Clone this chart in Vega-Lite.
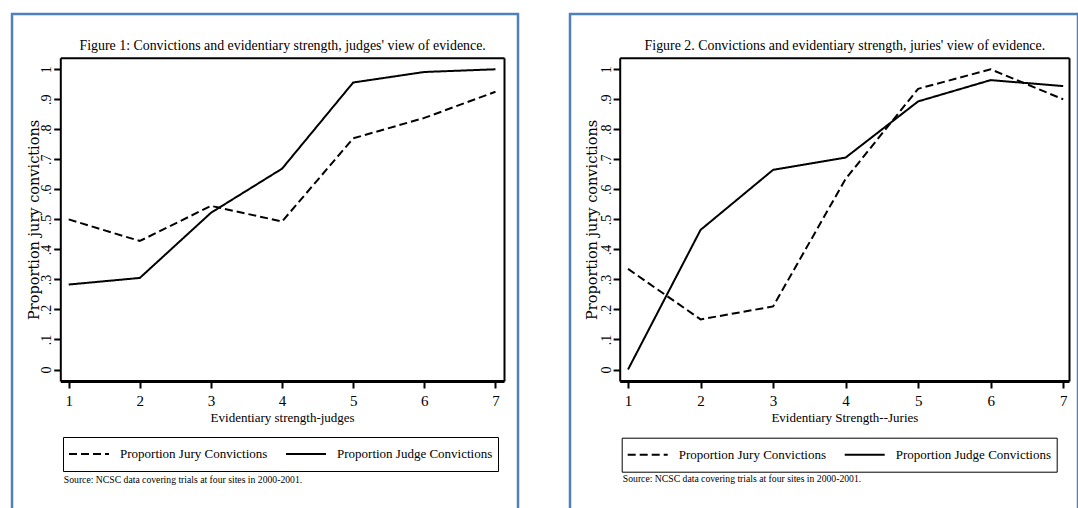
{
  "$schema": "https://vega.github.io/schema/vega-lite/v6.json",
  "padding": {"left": 10, "top": 12, "right": 0, "bottom": 0},
  "background": "white",
  "spacing": 48,
  "resolve": {"scale": {"strokeDash": "independent"}, "legend": {"strokeDash": "independent"}},
  "config": {
    "font": "Liberation Serif",
    "view": {"stroke": "#4f81bd", "strokeWidth": 2.5, "fill": "white"},
    "axis": {"grid": false, "domainColor": "black", "tickColor": "black", "labelColor": "black", "titleColor": "black", "labelFont": "Liberation Serif", "titleFont": "Liberation Serif", "titleFontWeight": "normal"},
    "line": {"color": "black", "strokeWidth": 2}
  },
  "datasets": {
    "fig1": [
      {"x": 1, "series": "Proportion Jury Convictions", "p": 0.5},
      {"x": 2, "series": "Proportion Jury Convictions", "p": 0.428},
      {"x": 3, "series": "Proportion Jury Convictions", "p": 0.545},
      {"x": 4, "series": "Proportion Jury Convictions", "p": 0.493},
      {"x": 5, "series": "Proportion Jury Convictions", "p": 0.77},
      {"x": 6, "series": "Proportion Jury Convictions", "p": 0.838},
      {"x": 7, "series": "Proportion Jury Convictions", "p": 0.925},
      {"x": 1, "series": "Proportion Judge Convictions", "p": 0.283},
      {"x": 2, "series": "Proportion Judge Convictions", "p": 0.305},
      {"x": 3, "series": "Proportion Judge Convictions", "p": 0.522},
      {"x": 4, "series": "Proportion Judge Convictions", "p": 0.669},
      {"x": 5, "series": "Proportion Judge Convictions", "p": 0.956},
      {"x": 6, "series": "Proportion Judge Convictions", "p": 0.991},
      {"x": 7, "series": "Proportion Judge Convictions", "p": 1.0}
    ],
    "fig2": [
      {"x": 1, "series": "Proportion Jury Convictions", "p": 0.335},
      {"x": 2, "series": "Proportion Jury Convictions", "p": 0.167},
      {"x": 3, "series": "Proportion Jury Convictions", "p": 0.21},
      {"x": 4, "series": "Proportion Jury Convictions", "p": 0.635},
      {"x": 5, "series": "Proportion Jury Convictions", "p": 0.935},
      {"x": 6, "series": "Proportion Jury Convictions", "p": 1.0},
      {"x": 7, "series": "Proportion Jury Convictions", "p": 0.9},
      {"x": 1, "series": "Proportion Judge Convictions", "p": 0.0},
      {"x": 2, "series": "Proportion Judge Convictions", "p": 0.465},
      {"x": 3, "series": "Proportion Judge Convictions", "p": 0.665},
      {"x": 4, "series": "Proportion Judge Convictions", "p": 0.706},
      {"x": 5, "series": "Proportion Judge Convictions", "p": 0.893},
      {"x": 6, "series": "Proportion Judge Convictions", "p": 0.964},
      {"x": 7, "series": "Proportion Judge Convictions", "p": 0.944}
    ]
  },
  "hconcat": [
    {
      "width": 506,
      "height": 500,
      "data": {"name": "fig1"},
      "resolve": {"axis": {"x": "independent", "y": "independent"}},
      "layer": [
        {
          "mark": {"type": "line", "strokeWidth": 2, "color": "black"},
          "encoding": {
            "x": {"field": "x", "type": "quantitative",
              "scale": {"domain": [0.882, 7.12], "range": [48.3, 492], "zero": false, "nice": false},
              "axis": {"orient": "bottom", "offset": -133, "values": [1, 2, 3, 4, 5, 6, 7], "format": "d", "domainWidth": 3, "tickWidth": 2, "tickSize": 7, "labelFontSize": 15, "labelPadding": 5, "labelFlush": false, "labelOverlap": false,
                "title": "Evidentiary strength-judges", "titleFontSize": 13, "titleX": 270.15, "titleY": 40.3, "titleBaseline": "alphabetic", "titleAlign": "center"}},
            "y": {"field": "p", "type": "quantitative",
              "scale": {"domain": [-0.0383, 1.0386], "range": [367, 43.7], "zero": false, "nice": false},
              "axis": {"orient": "left", "offset": -48.3, "values": [0, 0.1, 0.2, 0.3, 0.4, 0.5, 0.6, 0.7, 0.8, 0.9, 1],
                "labelExpr": "datum.value == 0 ? '0' : datum.value == 1 ? '1' : replace(format(datum.value, '.1f'), '0.', '.')",
                "domainWidth": 2, "tickWidth": 2, "tickSize": 6.6, "labelAngle": 270, "labelAlign": "center", "labelBaseline": "alphabetic", "labelPadding": 3, "labelFontSize": 14, "labelFlush": false, "labelOverlap": false,
                "title": "Proportion jury convictions", "titleFont": "DejaVu Serif", "titleFontSize": 14.5, "titleAngle": 270, "titleX": -22, "titleY": 205.35, "titleAlign": "center", "titleBaseline": "alphabetic"}},
            "strokeDash": {"field": "series", "type": "nominal",
              "scale": {"domain": ["Proportion Jury Convictions", "Proportion Judge Convictions"], "range": [[8, 4], [1, 0]]},
              "legend": {"title": null, "orient": "none", "legendX": 51, "legendY": 423, "direction": "horizontal", "columns": 2,
                "symbolType": "stroke", "symbolSize": 1600, "symbolStrokeWidth": 2, "symbolStrokeColor": "black", "clipHeight": 24,
                "padding": 5, "labelOffset": 10, "columnPadding": 17, "labelFont": "Liberation Serif", "labelFontSize": 13, "labelColor": "black", "labelLimit": 0,
                "strokeColor": "black", "encode": {"legend": {"update": {"strokeWidth": {"value": 2}}}}}}
          }
        },
        {
          "mark": {"type": "line", "opacity": 0},
          "encoding": {
            "x": {"field": "x", "type": "quantitative",
              "axis": {"orient": "top", "offset": -43.7, "ticks": false, "labels": false, "domainWidth": 2,
                "title": "Figure 1: Convictions and evidentiary strength, judges' view of evidence.", "titleFontSize": 13.9, "titleX": 270.15, "titleY": -8, "titleBaseline": "alphabetic", "titleAlign": "center"}},
            "y": {"field": "p", "type": "quantitative",
              "axis": {"orient": "right", "offset": -14, "ticks": false, "labels": false, "domainWidth": 2,
                "title": "Source: NCSC data covering trials at four sites in 2000-2001.", "titleAngle": 0, "titleFontSize": 9.7, "titleX": -440.7, "titleY": 468.4, "titleAlign": "left", "titleBaseline": "alphabetic"}},
            "detail": {"field": "series"}
          }
        }
      ]
    },
    {
      "width": 508,
      "height": 500,
      "data": {"name": "fig2"},
      "resolve": {"axis": {"x": "independent", "y": "independent"}},
      "layer": [
        {
          "mark": {"type": "line", "strokeWidth": 2, "color": "black"},
          "encoding": {
            "x": {"field": "x", "type": "quantitative",
              "scale": {"domain": [0.885, 7.08], "range": [49.7, 499], "zero": false, "nice": false},
              "axis": {"orient": "bottom", "offset": -133, "values": [1, 2, 3, 4, 5, 6, 7], "format": "d", "domainWidth": 3, "tickWidth": 2, "tickSize": 7, "labelFontSize": 15, "labelPadding": 5, "labelFlush": false, "labelOverlap": false,
                "title": "Evidentiary Strength--Juries", "titleFontSize": 13, "titleX": 274.35, "titleY": 40.3, "titleBaseline": "alphabetic", "titleAlign": "center"}},
            "y": {"field": "p", "type": "quantitative",
              "scale": {"domain": [-0.0383, 1.0386], "range": [367, 43.7], "zero": false, "nice": false},
              "axis": {"orient": "left", "offset": -49.7, "values": [0, 0.1, 0.2, 0.3, 0.4, 0.5, 0.6, 0.7, 0.8, 0.9, 1],
                "labelExpr": "datum.value == 0 ? '0' : datum.value == 1 ? '1' : replace(format(datum.value, '.1f'), '0.', '.')",
                "domainWidth": 2, "tickWidth": 2, "tickSize": 6.6, "labelAngle": 270, "labelAlign": "center", "labelBaseline": "alphabetic", "labelPadding": 3, "labelFontSize": 14, "labelFlush": false, "labelOverlap": false,
                "title": "Proportion jury convictions", "titleFont": "DejaVu Serif", "titleFontSize": 14.5, "titleAngle": 270, "titleX": -23.5, "titleY": 205.35, "titleAlign": "center", "titleBaseline": "alphabetic"}},
            "strokeDash": {"field": "series", "type": "nominal",
              "scale": {"domain": ["Proportion Jury Convictions", "Proportion Judge Convictions"], "range": [[8, 4], [1, 0]]},
              "legend": {"title": null, "orient": "none", "legendX": 51.7, "legendY": 423.7, "direction": "horizontal", "columns": 2,
                "symbolType": "stroke", "symbolSize": 1600, "symbolStrokeWidth": 2, "symbolStrokeColor": "black", "clipHeight": 24,
                "padding": 5, "labelOffset": 10, "columnPadding": 17, "labelFont": "Liberation Serif", "labelFontSize": 13, "labelColor": "black", "labelLimit": 0,
                "strokeColor": "black", "encode": {"legend": {"update": {"strokeWidth": {"value": 2}}}}}}
          }
        },
        {
          "mark": {"type": "line", "opacity": 0},
          "encoding": {
            "x": {"field": "x", "type": "quantitative",
              "axis": {"orient": "top", "offset": -43.7, "ticks": false, "labels": false, "domainWidth": 2,
                "title": "Figure 2. Convictions and evidentiary strength, juries' view of evidence.", "titleFontSize": 13.9, "titleX": 274.35, "titleY": -8, "titleBaseline": "alphabetic", "titleAlign": "center"}},
            "y": {"field": "p", "type": "quantitative",
              "axis": {"orient": "right", "offset": -9, "ticks": false, "labels": false, "domainWidth": 2,
                "title": "Source: NCSC data covering trials at four sites in 2000-2001.", "titleAngle": 0, "titleFontSize": 9.7, "titleX": -446.7, "titleY": 467, "titleAlign": "left", "titleBaseline": "alphabetic"}},
            "detail": {"field": "series"}
          }
        }
      ]
    }
  ]
}
